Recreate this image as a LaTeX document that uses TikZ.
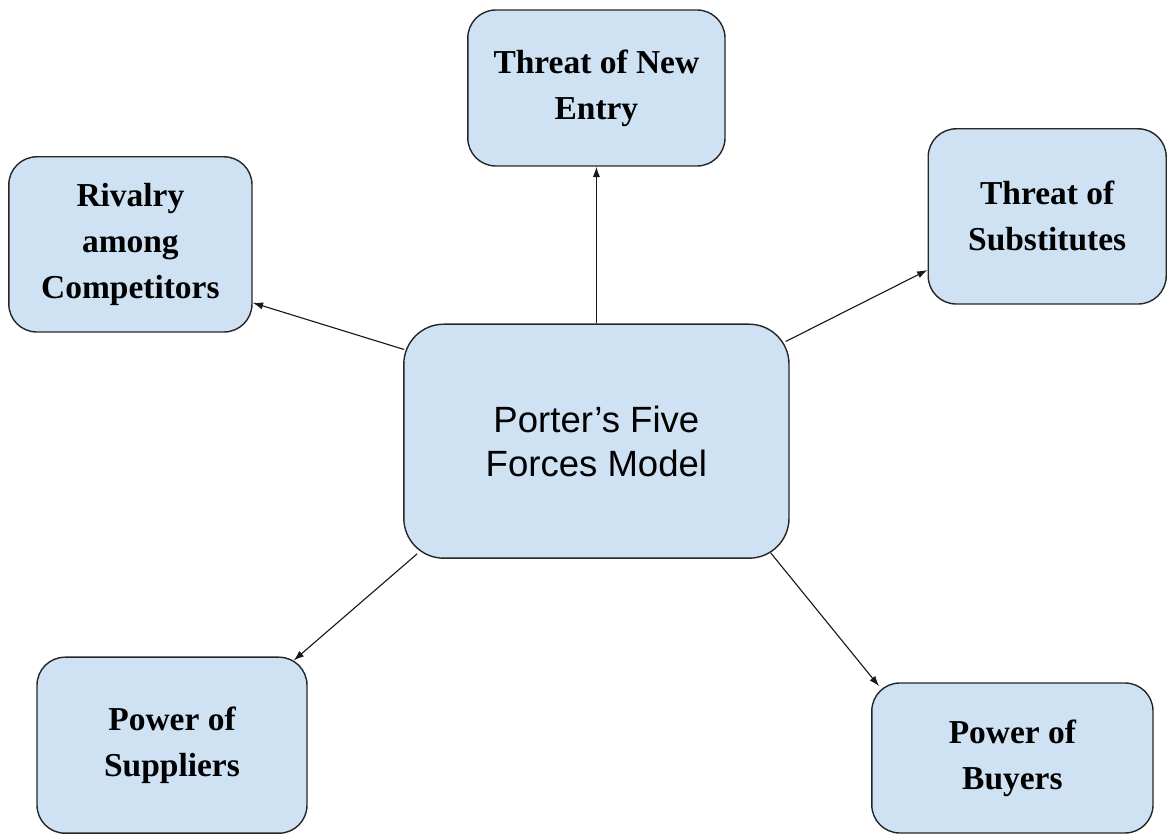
\documentclass[tikz,border=0pt]{standalone}
\usepackage{fontspec}
\setmainfont{Liberation Serif}
\newfontfamily\hubfont{Liberation Sans}
\usetikzlibrary{arrows.meta,positioning}
\definecolor{boxblue}{HTML}{CFE2F3}
\tikzset{
    every node/.style={font=\fontsize{23.8}{32.7}\selectfont\bfseries},
    force/.style={draw=black!85, fill=boxblue, line width=1pt, rounded corners=.7cm, align=center, inner sep=0},
    hub/.style={force, rounded corners=1cm, font=\hubfont\fontsize{26}{31.3}\selectfont},
    pull/.style={-{Latex[length=2.6mm,width=1.8mm]}, line width=.8pt, black!90},
}

\begin{document}
\begin{tikzpicture}
    \useasboundingbox (0,0) rectangle (29.175,-20.85);

    \node[hub, minimum width=9.63cm, minimum height=5.85cm] (core) at (14.91,-11.03) {Porter’s Five\\Forces Model};

    \node[force, minimum width=6.43cm, minimum height=3.9cm] (entry) at (14.91,-2.2) {Threat of New\\Entry};
    \node[force, minimum width=5.95cm, minimum height=4.38cm] (subst) at (26.18,-5.41) {Threat of\\Substitutes};
    \node[force, minimum width=6.08cm, minimum height=4.38cm] (rival) at (3.26,-6.11) {Rivalry\\among\\Competitors};
    \node[force, minimum width=6.75cm, minimum height=4.4cm] (suppl) at (4.3,-18.63) {Power of\\Suppliers};
    \node[force, minimum width=7.03cm, minimum height=3.75cm] (buyer) at (25.31,-18.95) {Power of\\Buyers};

    \draw [pull] (core.north) -- (entry.south);
    \draw [pull] ([xshift=.025cm,yshift=-.65cm]core.north west) -- ([yshift=-1.46cm]rival.east);
    \draw [pull] ([xshift=-.1cm,yshift=-.45cm]core.north east) -- ([yshift=-1.34cm]subst.west);
    \draw [pull] ([xshift=.35cm,yshift=.125cm]core.south west) -- ([xshift=-.35cm,yshift=-.1cm]suppl.north east);
    \draw [pull] ([xshift=-.475cm,yshift=.15cm]core.south east) -- ([xshift=.2cm,yshift=-.1cm]buyer.north west);
\end{tikzpicture}
\end{document}
